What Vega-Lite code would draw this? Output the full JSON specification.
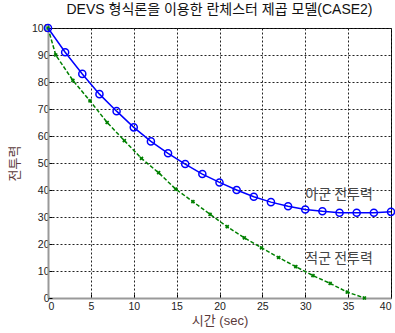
{
  "$schema": "https://vega.github.io/schema/vega-lite/v6.json",
  "width": 343,
  "height": 270,
  "autosize": {"type": "none"},
  "padding": {"left": 48, "top": 28, "right": 4, "bottom": 35},
  "background": "white",
  "config": {
    "view": {"stroke": "black", "strokeWidth": 1},
    "font": "Liberation Sans",
    "axis": {
      "grid": true,
      "gridColor": "#222",
      "gridDash": [2, 2],
      "gridOpacity": 1,
      "gridWidth": 1,
      "domainColor": "#999",
      "domainWidth": 2,
      "tickColor": "black",
      "tickSize": -4,
      "labelFont": "Liberation Sans",
      "labelFontSize": 10.5,
      "labelColor": "#222",
      "titleFont": "Liberation Sans, Noto Sans CJK KR",
      "titleFontWeight": "normal",
      "titleFontSize": 13,
      "titleColor": "#5a3a3a"
    },
    "title": {"font": "Liberation Sans, Noto Sans CJK KR", "fontSize": 14, "fontWeight": "normal", "color": "#111", "offset": 4}
  },
  "title": {"text": "DEVS 형식론을 이용한 란체스터 제곱 모델(CASE2)", "anchor": "middle"},
  "datasets": {
    "ally": [
      {"t": 0, "v": 100}, {"t": 2, "v": 91}, {"t": 4, "v": 83}, {"t": 6, "v": 75.5},
      {"t": 8, "v": 69.2}, {"t": 10, "v": 63.2}, {"t": 12, "v": 58}, {"t": 14, "v": 53.6},
      {"t": 16, "v": 49.6}, {"t": 18, "v": 45.9}, {"t": 20, "v": 42.8}, {"t": 22, "v": 40},
      {"t": 24, "v": 37.5}, {"t": 26, "v": 35.5}, {"t": 28, "v": 34}, {"t": 30, "v": 32.8},
      {"t": 32, "v": 32.1}, {"t": 34, "v": 31.6}, {"t": 36, "v": 31.6}, {"t": 38, "v": 31.6},
      {"t": 40, "v": 31.9}
    ],
    "enemy": [
      {"t": 0, "v": 100}, {"t": 0.9, "v": 90}, {"t": 2.9, "v": 80.6}, {"t": 4.9, "v": 73},
      {"t": 6.9, "v": 65}, {"t": 8.9, "v": 58.3}, {"t": 10.9, "v": 51.7}, {"t": 12.9, "v": 46.4},
      {"t": 14.9, "v": 40.3}, {"t": 16.9, "v": 35.7}, {"t": 18.9, "v": 31}, {"t": 20.9, "v": 26.4},
      {"t": 22.9, "v": 22.3}, {"t": 24.9, "v": 18.6}, {"t": 26.9, "v": 15}, {"t": 28.9, "v": 11.6},
      {"t": 30.9, "v": 8.3}, {"t": 32.9, "v": 5.4}, {"t": 34.9, "v": 2.2}, {"t": 36.9, "v": 0}
    ],
    "labels": [
      {"t": 30, "v": 38, "label": "아군 전투력"},
      {"t": 30, "v": 14.5, "label": "적군 전투력"}
    ]
  },
  "encoding": {
    "x": {
      "field": "t", "type": "quantitative",
      "scale": {"domain": [0, 40], "nice": false, "zero": false},
      "axis": {"values": [0, 5, 10, 15, 20, 25, 30, 35, 40], "title": "시간 (sec)", "labelPadding": 7, "titlePadding": 3}
    },
    "y": {
      "field": "v", "type": "quantitative",
      "scale": {"domain": [0, 100], "nice": false},
      "axis": {"values": [0, 10, 20, 30, 40, 50, 60, 70, 80, 90, 100], "title": "전투력", "labelPadding": 3, "titlePadding": 10}
    }
  },
  "layer": [
    {
      "data": {"name": "enemy"},
      "mark": {"type": "line", "color": "#008000", "strokeWidth": 1.5, "strokeDash": [4, 2]}
    },
    {
      "data": {"name": "enemy"},
      "mark": {"type": "point", "shape": "cross", "angle": 45, "size": 18, "filled": true, "color": "#008000", "opacity": 1}
    },
    {
      "data": {"name": "ally"},
      "mark": {"type": "line", "color": "#0000ff", "strokeWidth": 1.5}
    },
    {
      "data": {"name": "ally"},
      "mark": {"type": "point", "shape": "circle", "size": 50, "filled": false, "color": "#0000ff", "strokeWidth": 1.5, "opacity": 1}
    },
    {
      "data": {"name": "labels"},
      "mark": {"type": "text", "align": "left", "baseline": "middle", "font": "Noto Sans CJK KR", "fontSize": 14, "color": "#444"},
      "encoding": {"text": {"field": "label"}}
    }
  ]
}
